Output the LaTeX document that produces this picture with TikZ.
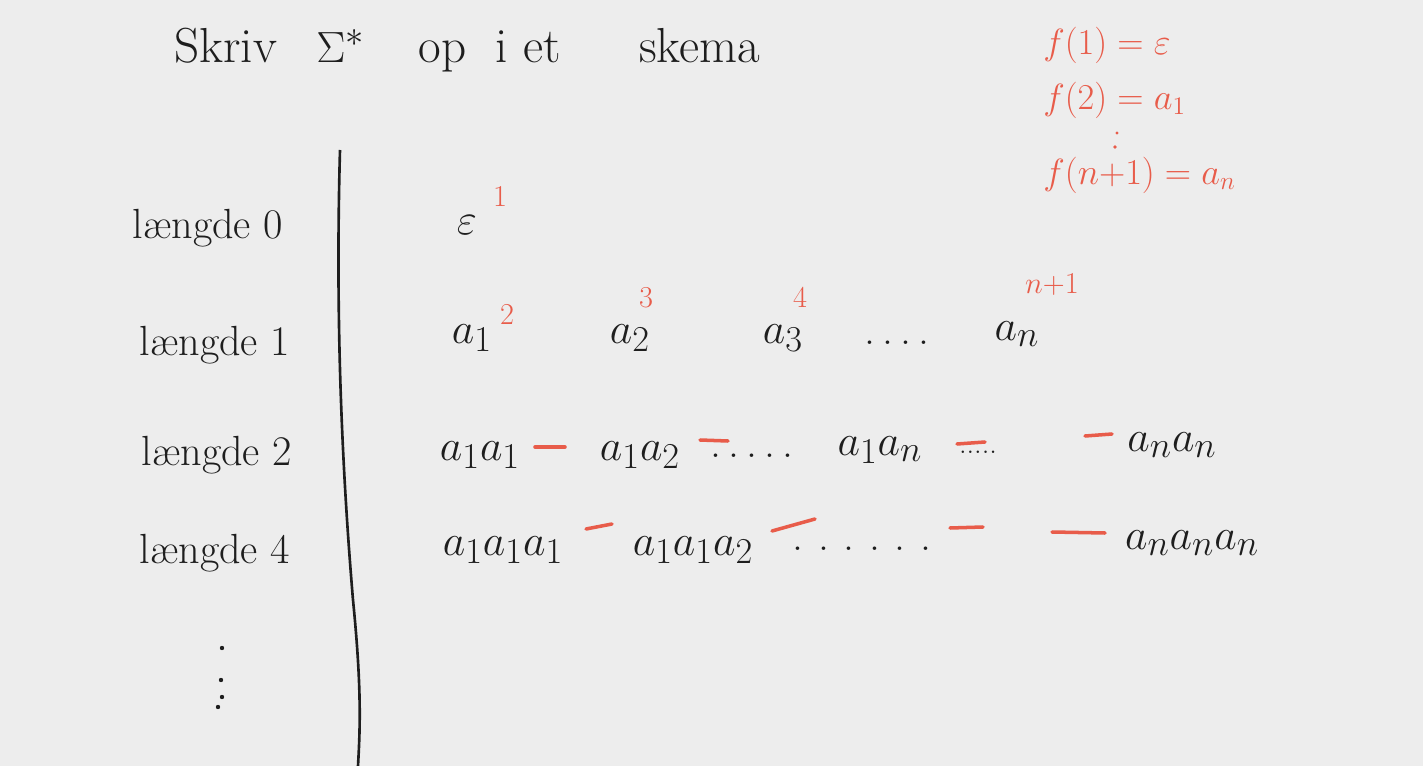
\documentclass[tikz,border=0pt]{standalone}
\usepackage{fontspec}

\definecolor{board}{RGB}{237,237,237}
\definecolor{ink}{RGB}{30,30,30}
\definecolor{chalk}{RGB}{232,92,74}

\begin{document}
\begin{tikzpicture}[x=0.2mm,y=-0.2mm,
    word/.style={text=ink,font=\fontsize{24.88}{28}\selectfont,inner sep=0pt},
    lbl/.style={text=ink,font=\fontsize{24}{28}\selectfont,inner sep=0pt},
    num/.style={text=chalk,font=\fontsize{17.28}{19}\selectfont,inner sep=0pt},
    fmap/.style={text=chalk,font=\fontsize{20.74}{22}\selectfont,anchor=west,inner sep=0pt},
    slot/.style={draw=chalk,line width=2pt,line cap=round}]
  \fill[board] (0,0) rectangle (1423,766);
  \useasboundingbox (0,0) rectangle (1423,766);

  \node[text=ink,font=\fontsize{28}{32}\selectfont,anchor=west,inner sep=0pt]
    (title) at (174,50) {Skriv\hspace{0.8em}$\Sigma^{*}$\hspace{1.1em}op\hspace{0.6em}i et\hspace{1.6em}skema};

  % f : N -> Sigma*
  \node[fmap] (f1) at (1043,45) {$f(1) = \varepsilon$};
  \node[fmap] (f2) at (1043,100) {$f(2) = a_1$};
  \node[fmap] (fn) at (1043,175) {$f(n{+}1) = a_n$};
  \fill[chalk] (1117,133) circle (1.6) (1115,147) circle (1.8);

  % row labels and the bar
  \node[lbl] (l0) at (208,228) {længde 0};
  \node[lbl] (l1) at (215,345) {længde 1};
  \node[lbl] (l2) at (217,455) {længde 2};
  \node[lbl] (l3) at (215,553) {længde 4};
  \foreach \x/\y in {222/648,221/680,222/697,218/707}
    \fill[ink] (\x,\y) circle (2.2);
  \draw[ink,line width=1.5pt] (340,150) .. controls (335,330) and (343,480) .. (353,600)
    .. controls (362,690) and (360,730) .. (358,766);

  % length 0 and 1
  \node[word] (e0) at (467,225) {$\varepsilon$};
  \node[num] (n1) at (500,196) {1};
  \node[word] (a1) at (472,338) {$a_1$};
  \node[num] (n2) at (507,314) {2};
  \node[word] (a2) at (630,338) {$a_2$};
  \node[num] (n3) at (646,298) {3};
  \node[word] (a3) at (783,338) {$a_3$};
  \node[num] (n4) at (800,297) {4};
  \node[word] (d1) at (897,343) {.\,.\,.\,.};
  \node[word] (an) at (1017,334) {$a_n$};
  \node[num] (nn) at (1052,285) {$n{+}1$};

  % length 2
  \node[word] (w11) at (480,455) {$a_1a_1$};
  \node[word] (w12) at (640,455) {$a_1a_2$};
  \node[word] (d2) at (752,456) {.\,.\,.\,.\,.};
  \node[word] (w1n) at (880,450) {$a_1a_n$};
  \node[word,font=\fontsize{17.28}{18}\selectfont] (d3) at (978,452) {.....};
  \node[word] (wnn) at (1172,445) {$a_na_n$};
  \draw[slot] (535,447) -- (565,447);
  \draw[slot] (700,440) -- (728,441);
  \draw[slot] (957,444) -- (985,442);
  \draw[slot] (1085,436) -- (1112,434);

  % length 3
  \node[word] (v111) at (503,550) {$a_1a_1a_1$};
  \node[word] (v112) at (693,550) {$a_1a_1a_2$};
  \node[word] (d4) at (862,549) {.\,\,.\,\,.\,\,.\,\,.\,\,.};
  \node[word] (vnnn) at (1192,543) {$a_na_na_n$};
  \draw[slot] (586,529) -- (612,524);
  \draw[slot] (772,531) -- (815,519);
  \draw[slot] (950,528) -- (983,527);
  \draw[slot] (1052,532) -- (1105,533);
\end{tikzpicture}
\end{document}
